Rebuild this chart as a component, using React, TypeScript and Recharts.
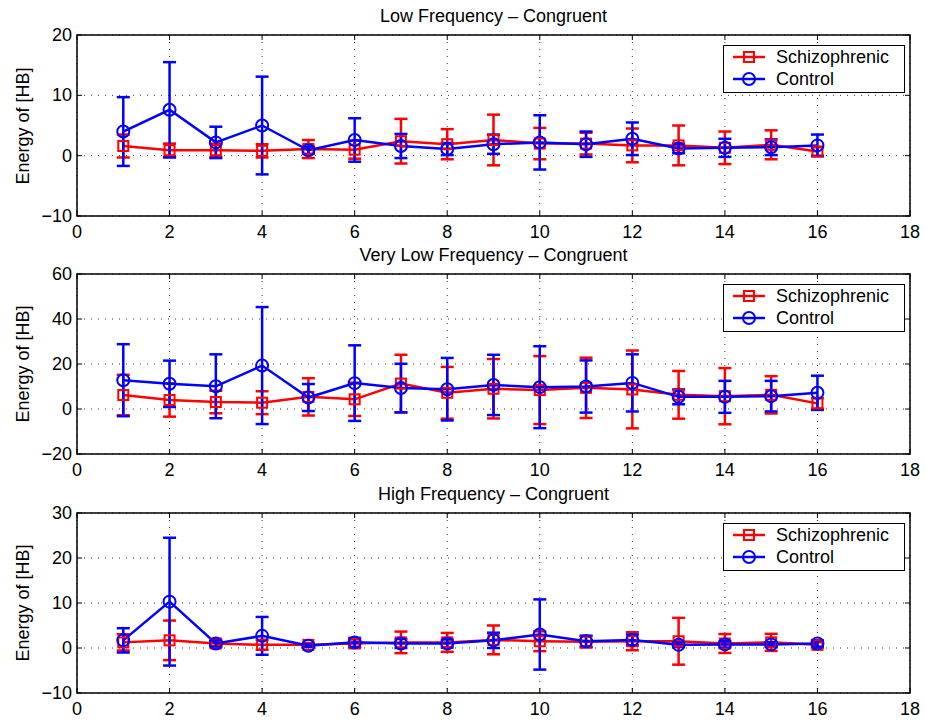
import { LineChart, Line, XAxis, YAxis, CartesianGrid, ErrorBar, ReferenceArea, Legend } from 'recharts';

const FONT = '"Liberation Sans", Arial, Helvetica, sans-serif';
const RED = '#ff0000';
const BLUE = '#0000ff';

// channel index on the x axis
const channels = [1, 2, 3, 4, 5, 6, 7, 8, 9, 10, 11, 12, 13, 14, 15, 16];
const xTicks = [0, 2, 4, 6, 8, 10, 12, 14, 16, 18];

// Low Frequency - Congruent
const lowSchizo = [1.6, 0.9, 0.9, 0.8, 1.1, 1.0, 2.4, 1.9, 2.6, 2.0, 2.0, 1.7, 1.7, 1.3, 1.8, 0.7];
const lowSchizoErr = [1.9, 1.1, 1.1, 1.1, 1.5, 1.5, 3.7, 2.5, 4.2, 2.6, 1.8, 2.8, 3.3, 2.7, 2.4, 0.7];
const lowControl = [4.0, 7.6, 2.2, 5.0, 0.9, 2.6, 1.6, 1.1, 1.9, 2.2, 1.9, 2.8, 1.2, 1.3, 1.4, 1.7];
const lowControlErr = [5.7, 7.9, 2.6, 8.1, 0.6, 3.6, 2.0, 1.0, 1.6, 4.5, 2.1, 2.7, 0.8, 1.5, 1.3, 1.8];
const lowTicks = [-10, 0, 10, 20];

// Very Low Frequency - Congruent
const vlowSchizo = [6.2, 4.0, 3.1, 2.8, 5.4, 4.3, 11.3, 7.2, 9.0, 8.4, 9.4, 8.7, 6.3, 5.7, 6.3, 2.5];
const vlowSchizoErr = [9.0, 7.4, 5.0, 5.1, 8.3, 7.4, 12.8, 11.5, 13.2, 15.1, 13.4, 17.3, 10.6, 12.5, 8.3, 2.4];
const vlowControl = [12.8, 11.2, 10.1, 19.3, 5.1, 11.5, 9.3, 8.8, 10.7, 9.7, 10.0, 11.6, 5.4, 5.4, 5.7, 7.2];
const vlowControlErr = [16.0, 10.3, 14.2, 26.0, 6.0, 16.8, 10.8, 13.9, 13.4, 18.2, 11.6, 12.7, 3.3, 7.1, 6.8, 7.6];
const vlowTicks = [-20, 0, 20, 40, 60];

// High Frequency - Congruent
const highSchizo = [1.25, 1.7, 1.0, 0.7, 0.7, 1.0, 1.25, 1.25, 1.8, 1.5, 1.4, 1.5, 1.5, 1.0, 1.25, 0.7];
const highSchizoErr = [1.8, 4.4, 0.6, 1.1, 0.4, 0.9, 2.4, 2.1, 3.2, 2.2, 1.3, 2.0, 5.2, 2.1, 1.9, 0.6];
const highControl = [1.7, 10.3, 1.0, 2.7, 0.5, 1.25, 1.0, 1.0, 1.7, 3.0, 1.5, 1.8, 0.7, 0.8, 0.8, 1.0];
const highControlErr = [2.7, 14.2, 0.8, 4.2, 0.3, 1.0, 1.0, 0.9, 1.7, 7.8, 1.2, 1.2, 0.5, 0.7, 0.5, 0.7];
const highTicks = [-10, 0, 10, 20, 30];

const fmt = (v: number) => (v < 0 ? '\u2212' + Math.abs(v) : String(v));

function buildRows(s: number[], se: number[], c: number[], ce: number[]) {
  return channels.map((ch, i) => ({ ch, schizo: s[i], schizoErr: se[i], control: c[i], controlErr: ce[i] }));
}

const squareDot = (props: any) => {
  const { cx, cy, index } = props;
  return (
    <rect key={`sq-${index}`} x={cx - 5} y={cy - 5} width={10} height={10}
      fill="none" stroke={RED} strokeWidth={2} />
  );
};

const renderLegend = () => (
  <svg width={182} height={48} style={{ display: 'block' }}>
    <rect x={0.5} y={0.5} width={181} height={47} fill="#fff" stroke="#000" strokeWidth={1} />
    <line x1={10} y1={12} x2={42} y2={12} stroke={RED} strokeWidth={2.5} />
    <rect x={21} y={7} width={10} height={10} fill="none" stroke={RED} strokeWidth={2} />
    <text x={53} y={12} dominantBaseline="central" fontFamily={FONT} fontSize={18} fill="#000">Schizophrenic</text>
    <line x1={10} y1={34} x2={42} y2={34} stroke={BLUE} strokeWidth={2.5} />
    <circle cx={26} cy={34} r={6} fill="none" stroke={BLUE} strokeWidth={2} />
    <text x={53} y={34} dominantBaseline="central" fontFamily={FONT} fontSize={18} fill="#000">Control</text>
  </svg>
);

interface PanelProps {
  title: string;
  top: number;
  height: number;
  plotTop: number;
  plotBottom: number;
  ticks: number[];
  rows: any[];
}

const LEFT = 77;
const RIGHT = 910;

function Panel({ title, top, height, plotTop, plotBottom, ticks, rows }: PanelProps) {
  const localTop = plotTop - top;
  const xAxisHeight = top + height - plotBottom;
  const yMin = ticks[0];
  const yMax = ticks[ticks.length - 1];

  const XTick = (props: any) => {
    const { x, y, payload } = props;
    return (
      <g>
        <line x1={x} y1={y} x2={x} y2={y - 5} stroke="#000" />
        <line x1={x} y1={localTop} x2={x} y2={localTop + 5} stroke="#000" />
        <text x={x} y={y + 16} textAnchor="middle" dominantBaseline="central"
          fontFamily={FONT} fontSize={18} fill="#000">{fmt(payload.value)}</text>
      </g>
    );
  };

  const YTick = (props: any) => {
    const { x, y, payload } = props;
    return (
      <g>
        <line x1={x} y1={y} x2={x + 5} y2={y} stroke="#000" />
        <line x1={RIGHT - 5} y1={y} x2={RIGHT} y2={y} stroke="#000" />
        <text x={x - 5} y={y} textAnchor="end" dominantBaseline="central"
          fontFamily={FONT} fontSize={18} fill="#000">{fmt(payload.value)}</text>
      </g>
    );
  };

  return (
    <div style={{ position: 'absolute', left: 0, top, width: 927, height }}>
      <div style={{ position: 'absolute', left: LEFT, width: RIGHT - LEFT, top: localTop - 28, lineHeight: '18px',
        fontFamily: FONT, fontSize: 18, textAlign: 'center', color: '#000' }}>{title}</div>
      <div style={{ position: 'absolute', left: 23, top: (localTop + plotBottom - top) / 2, width: 0, height: 0 }}>
        <div style={{ position: 'absolute', left: -100, top: -10, width: 200, lineHeight: '20px', textAlign: 'center',
          transform: 'rotate(-90deg)', fontFamily: FONT, fontSize: 18, color: '#000', whiteSpace: 'nowrap' }}>
          Energy of [HB]
        </div>
      </div>
      <LineChart width={927} height={height} data={rows}
        margin={{ top: localTop, right: 927 - RIGHT, left: LEFT - 40, bottom: 0 }}>
        <CartesianGrid stroke="#333" strokeDasharray="1 6" strokeWidth={1} />
        <XAxis dataKey="ch" type="number" domain={[0, 18]} ticks={xTicks} interval={0}
          height={xAxisHeight} tickSize={0} tickMargin={0} axisLine={false} tickLine={false} tick={XTick} allowDataOverflow />
        <YAxis type="number" domain={[yMin, yMax]} ticks={ticks} interval={0} width={40}
          tickSize={0} tickMargin={0} axisLine={false} tickLine={false} tick={YTick} allowDataOverflow />
        <Line dataKey="schizo" name="Schizophrenic" type="linear" stroke={RED} strokeWidth={2.5}
          dot={squareDot} activeDot={false} isAnimationActive={false}>
          <ErrorBar dataKey="schizoErr" direction="y" width={6.5} stroke={RED} strokeWidth={2.5} isAnimationActive={false} />
        </Line>
        <Line dataKey="control" name="Control" type="linear" stroke={BLUE} strokeWidth={2.5}
          dot={{ r: 6, fill: 'none', stroke: BLUE, strokeWidth: 2 }} activeDot={false} isAnimationActive={false}>
          <ErrorBar dataKey="controlErr" direction="y" width={6.5} stroke={BLUE} strokeWidth={2.5} isAnimationActive={false} />
        </Line>
        <ReferenceArea x1={0} x2={18} y1={yMin} y2={yMax} fill="none" stroke="#000" strokeWidth={1.5} />
        <Legend layout="horizontal" verticalAlign="middle" align="center" content={renderLegend}
          wrapperStyle={{ left: 723, top: localTop + 10, width: 182, height: 48 }} />
      </LineChart>
    </div>
  );
}

export default function App() {
  return (
    <div style={{ position: 'absolute', left: 0, top: 0, width: 927, height: 722, background: '#fff' }}>
      <Panel title="Low Frequency – Congruent" top={0} height={250} plotTop={35} plotBottom={216}
        ticks={lowTicks} rows={buildRows(lowSchizo, lowSchizoErr, lowControl, lowControlErr)} />
      <Panel title="Very Low Frequency – Congruent" top={240} height={250} plotTop={274} plotBottom={454}
        ticks={vlowTicks} rows={buildRows(vlowSchizo, vlowSchizoErr, vlowControl, vlowControlErr)} />
      <Panel title="High Frequency – Congruent" top={480} height={242} plotTop={513} plotBottom={693}
        ticks={highTicks} rows={buildRows(highSchizo, highSchizoErr, highControl, highControlErr)} />
    </div>
  );
}
